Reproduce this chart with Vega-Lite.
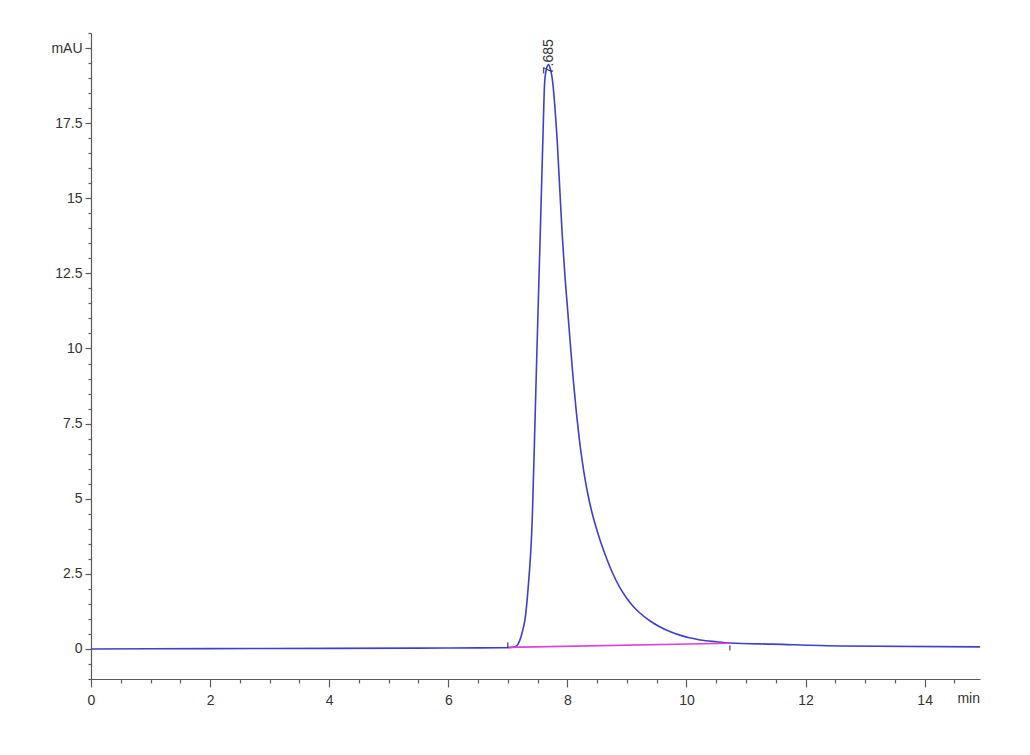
{
  "$schema": "https://vega.github.io/schema/vega-lite/v6.json",
  "width": 889,
  "height": 646,
  "autosize": {"type": "none"},
  "padding": {"left": 91, "top": 33, "right": 50, "bottom": 76},
  "background": "white",
  "config": {
    "view": {"stroke": null},
    "axis": {"grid": false, "domainColor": "#5a5a5a", "tickColor": "#5a5a5a", "domainWidth": 1.2, "tickWidth": 1.2, "labelFont": "Liberation Sans", "labelFontSize": 14, "labelColor": "#333333", "title": null, "labelOverlap": false, "labelBound": false, "labelFlush": false, "tickCount": 200}
  },
  "datasets": {
    "trace": [
      {"t": 0.0, "mAU": 0.0},
      {"t": 2.0, "mAU": 0.01},
      {"t": 4.0, "mAU": 0.02},
      {"t": 6.0, "mAU": 0.03},
      {"t": 6.9, "mAU": 0.04},
      {"t": 7.05, "mAU": 0.05},
      {"t": 7.12, "mAU": 0.07},
      {"t": 7.17, "mAU": 0.15},
      {"t": 7.22, "mAU": 0.4},
      {"t": 7.26, "mAU": 0.7},
      {"t": 7.29, "mAU": 1.0},
      {"t": 7.34, "mAU": 2.0},
      {"t": 7.41, "mAU": 4.3},
      {"t": 7.457, "mAU": 7.6},
      {"t": 7.49, "mAU": 10.0},
      {"t": 7.546, "mAU": 13.9},
      {"t": 7.588, "mAU": 16.9},
      {"t": 7.62, "mAU": 18.9},
      {"t": 7.655, "mAU": 19.35},
      {"t": 7.685, "mAU": 19.45},
      {"t": 7.715, "mAU": 19.3},
      {"t": 7.745, "mAU": 19.0},
      {"t": 7.83, "mAU": 16.9},
      {"t": 7.91, "mAU": 13.9},
      {"t": 7.96, "mAU": 12.4},
      {"t": 8.0, "mAU": 11.4},
      {"t": 8.05, "mAU": 10.15},
      {"t": 8.1, "mAU": 8.95},
      {"t": 8.15, "mAU": 7.9},
      {"t": 8.2, "mAU": 7.0},
      {"t": 8.25, "mAU": 6.25},
      {"t": 8.3, "mAU": 5.62},
      {"t": 8.35, "mAU": 5.1},
      {"t": 8.4, "mAU": 4.65},
      {"t": 8.46, "mAU": 4.2},
      {"t": 8.55, "mAU": 3.62},
      {"t": 8.63, "mAU": 3.17},
      {"t": 8.75, "mAU": 2.57},
      {"t": 8.88, "mAU": 2.05},
      {"t": 9.0, "mAU": 1.68},
      {"t": 9.1, "mAU": 1.43},
      {"t": 9.2, "mAU": 1.23},
      {"t": 9.39, "mAU": 0.93},
      {"t": 9.55, "mAU": 0.74},
      {"t": 9.72, "mAU": 0.58},
      {"t": 9.89, "mAU": 0.46},
      {"t": 10.05, "mAU": 0.37},
      {"t": 10.23, "mAU": 0.3},
      {"t": 10.5, "mAU": 0.24},
      {"t": 10.73, "mAU": 0.2},
      {"t": 11.45, "mAU": 0.16},
      {"t": 12.58, "mAU": 0.1},
      {"t": 14.93, "mAU": 0.07}
    ],
    "baseline": [
      {"t": 7.0, "mAU": 0.05},
      {"t": 10.73, "mAU": 0.19}
    ],
    "marks": [
      {"t": 7.0, "lo": 0.03, "hi": 0.22},
      {"t": 10.73, "lo": -0.05, "hi": 0.12}
    ],
    "peak": [
      {"t": 7.685, "mAU": 19.13, "label": "7.685"}
    ],
    "unit": [
      {"t": 14.93, "mAU": -1, "label": "min"}
    ]
  },
  "layer": [
    {
      "data": {"name": "trace"},
      "mark": {"type": "line", "color": "#3f3fcf", "strokeWidth": 1.6, "interpolate": "monotone"},
      "encoding": {
        "x": {"field": "t", "type": "quantitative", "scale": {"domain": [0, 14.93], "nice": false, "zero": false},
          "axis": {
            "values": [0,0.5,1,1.5,2,2.5,3,3.5,4,4.5,5,5.5,6,6.5,7,7.5,8,8.5,9,9.5,10,10.5,11,11.5,12,12.5,13,13.5,14,14.5],
            "format": "~g",
            "tickCount": 200,
            "labelExpr": "datum.value % 2 === 0 ? datum.label : ''",
            "tickSize": {"condition": {"test": "datum.value % 2 === 0", "value": 8}, "value": 4},
            "labelPadding": 6
          }},
        "y": {"field": "mAU", "type": "quantitative", "scale": {"domain": [-1, 20.5], "nice": false, "zero": false},
          "axis": {
            "values": [-1,-0.5,0,0.5,1,1.5,2,2.5,3,3.5,4,4.5,5,5.5,6,6.5,7,7.5,8,8.5,9,9.5,10,10.5,11,11.5,12,12.5,13,13.5,14,14.5,15,15.5,16,16.5,17,17.5,18,18.5,19,19.5,20,20.5],
            "format": "~g",
            "tickCount": 200,
            "labelExpr": "datum.value === 20 ? 'mAU' : ((datum.value % 2.5 === 0 && datum.value >= 0) ? datum.label : '')",
            "tickSize": {"condition": {"test": "datum.value % 2.5 === 0", "value": 6}, "value": 3},
            "labelPadding": 3
          }}
      }
    },
    {
      "data": {"name": "baseline"},
      "mark": {"type": "line", "color": "#e040d8", "strokeWidth": 1.7},
      "encoding": {
        "x": {"field": "t", "type": "quantitative"},
        "y": {"field": "mAU", "type": "quantitative"}
      }
    },
    {
      "data": {"name": "marks"},
      "mark": {"type": "rule", "color": "#222222", "strokeWidth": 1},
      "encoding": {
        "x": {"field": "t", "type": "quantitative"},
        "y": {"field": "lo", "type": "quantitative"},
        "y2": {"field": "hi"}
      }
    },
    {
      "data": {"name": "peak"},
      "mark": {"type": "text", "angle": 270, "align": "left", "baseline": "middle", "font": "Liberation Sans", "fontSize": 14, "color": "#333333"},
      "encoding": {
        "x": {"field": "t", "type": "quantitative"},
        "y": {"field": "mAU", "type": "quantitative"},
        "text": {"field": "label"}
      }
    },
    {
      "data": {"name": "unit"},
      "mark": {"type": "text", "align": "right", "baseline": "top", "dy": 13, "font": "Liberation Sans", "fontSize": 14, "color": "#333333"},
      "encoding": {
        "x": {"field": "t", "type": "quantitative"},
        "y": {"field": "mAU", "type": "quantitative"},
        "text": {"field": "label"}
      }
    }
  ]
}
